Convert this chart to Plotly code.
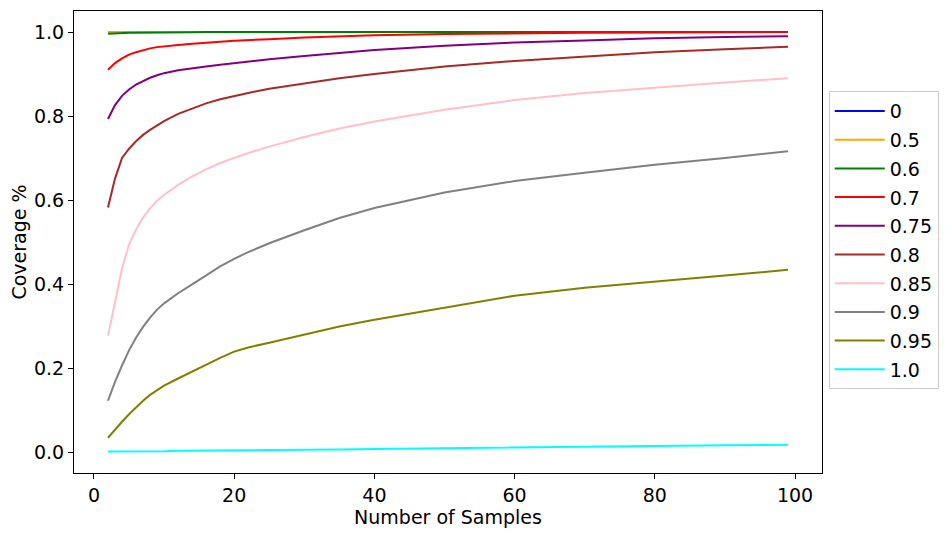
import plotly.graph_objects as go

# Sample counts at which values were read
n_samples = [2, 3, 4, 5, 6, 7, 8, 9, 10, 12, 14, 16, 18, 20, 22, 25, 30, 35, 40,
             50, 60, 70, 80, 90, 99]

thresholds = ["0", "0.5", "0.6", "0.7", "0.75", "0.8", "0.85", "0.9", "0.95", "1.0"]
colors = ["blue", "orange", "green", "red", "purple", "brown", "pink", "gray",
          "olive", "cyan"]

cov_0 = [1.0] * 25
cov_05 = [1.0] * 25
cov_06 = [0.996, 0.997, 0.997, 0.998, 0.998, 0.998, 0.999, 0.999, 0.999, 0.999,
          0.9995, 1.0, 1.0, 1.0, 1.0, 1.0, 1.0, 1.0, 1.0, 1.0, 1.0, 1.0, 1.0, 1.0, 1.0]
cov_07 = [0.910, 0.926, 0.937, 0.946, 0.952, 0.957, 0.961, 0.964, 0.966, 0.969,
          0.972, 0.975, 0.977, 0.979, 0.981, 0.983, 0.987, 0.990, 0.992, 0.995,
          0.997, 0.998, 0.999, 0.9995, 1.0]
cov_075 = [0.793, 0.826, 0.848, 0.863, 0.875, 0.884, 0.891, 0.897, 0.902, 0.909,
           0.914, 0.918, 0.922, 0.926, 0.930, 0.935, 0.943, 0.950, 0.957, 0.967,
           0.975, 0.980, 0.985, 0.988, 0.990]
cov_08 = [0.582, 0.651, 0.700, 0.722, 0.740, 0.755, 0.767, 0.778, 0.788, 0.805,
          0.818, 0.830, 0.840, 0.848, 0.855, 0.865, 0.878, 0.890, 0.900, 0.918,
          0.931, 0.942, 0.952, 0.959, 0.965]
cov_085 = [0.277, 0.360, 0.437, 0.494, 0.530, 0.558, 0.580, 0.598, 0.612, 0.636,
           0.656, 0.673, 0.688, 0.700, 0.712, 0.727, 0.750, 0.770, 0.787, 0.815,
           0.838, 0.855, 0.868, 0.880, 0.890]
cov_09 = [0.122, 0.167, 0.206, 0.242, 0.272, 0.298, 0.320, 0.339, 0.354, 0.378,
          0.399, 0.420, 0.442, 0.460, 0.476, 0.497, 0.528, 0.557, 0.581, 0.618,
          0.645, 0.665, 0.684, 0.700, 0.716]
cov_095 = [0.034, 0.054, 0.072, 0.090, 0.107, 0.122, 0.136, 0.148, 0.158, 0.175,
           0.192, 0.208, 0.224, 0.239, 0.249, 0.260, 0.280, 0.299, 0.315, 0.343,
           0.372, 0.391, 0.405, 0.420, 0.434]
cov_10 = [0.001, 0.001, 0.001, 0.002, 0.002, 0.002, 0.002, 0.002, 0.002, 0.003,
          0.003, 0.003, 0.004, 0.004, 0.004, 0.005, 0.005, 0.006, 0.007, 0.009,
          0.011, 0.012, 0.014, 0.016, 0.017]

series = [cov_0, cov_05, cov_06, cov_07, cov_075, cov_08, cov_085, cov_09,
          cov_095, cov_10]

FONT = "DejaVu Sans"
FS = 19
fig = go.Figure()
for i, (name, col, vals) in enumerate(zip(thresholds, colors, series)):
    fig.add_trace(go.Scatter(
        x=n_samples, y=vals, mode="lines", name=name,
        line=dict(color=col, width=2), legendgroup=f"g{i}",
    ))

fig.update_layout(
    width=952, height=535,
    margin=dict(l=66, r=138, t=3, b=70),
    paper_bgcolor="white", plot_bgcolor="white",
    font=dict(family=FONT, size=FS, color="black"),
    showlegend=True,
    legend=dict(
        x=1.009, xanchor="left", y=0.504, yanchor="middle",
        bordercolor="#cccccc", borderwidth=1, bgcolor="white",
        font=dict(family=FONT, size=FS), traceorder="grouped",
        tracegroupgap=1, itemwidth=50,
    ),
)
axis_common = dict(
    showline=True, linecolor="black", linewidth=1, mirror=True,
    ticks="outside", ticklen=5, tickwidth=1, tickcolor="black",
    showgrid=False, zeroline=False,
    tickfont=dict(family=FONT, size=FS, color="black"),
)
fig.update_xaxes(range=[-2.85, 103.85], tick0=0, dtick=20,
                 title=dict(text="Number of Samples", font=dict(family=FONT, size=FS), standoff=2),
                 **axis_common)
fig.update_yaxes(range=[-0.05, 1.05], tick0=0, dtick=0.2, tickformat=".1f",
                 title=dict(text="Coverage %", font=dict(family=FONT, size=FS), standoff=8),
                 **axis_common)

fig.write_html("out.html")
